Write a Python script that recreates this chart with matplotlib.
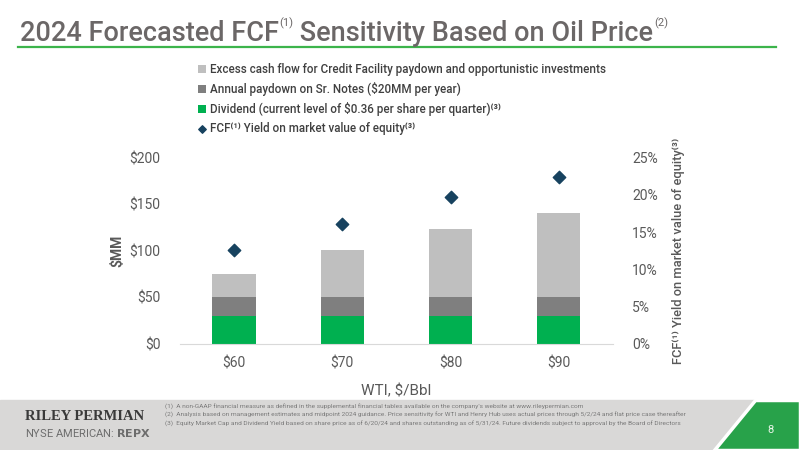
import matplotlib
matplotlib.use("Agg")
import matplotlib.pyplot as plt
from matplotlib.patches import Polygon, Rectangle
from matplotlib.lines import Line2D
import numpy as np

categories = ["$60", "$70", "$80", "$90"]
dividend = [30, 30, 30, 30]
notes_paydown = [20, 20, 20, 20]
excess_cash = [25, 51, 73, 90]
fcf_yield = [12.6, 16.1, 19.7, 22.4]
left_ticks = [0, 50, 100, 150, 200]
left_tick_labels = ["$0", "$50", "$100", "$150", "$200"]
right_ticks = [0, 5, 10, 15, 20, 25]
right_tick_labels = ["0%", "5%", "10%", "15%", "20%", "25%"]
footnotes = [
    "(1)  A non-GAAP financial measure as defined in the supplemental financial tables available on the company's website at www.rileypermian.com",
    "(2)  Analysis based on management estimates and midpoint 2024 guidance. Price sensitivity for WTI and Henry Hub uses actual prices through 5/2/24 and flat price case thereafter",
    "(3)  Equity Market Cap and Dividend Yield based on share price as of 6/20/24 and shares outstanding as of 5/31/24. Future dividends subject to approval by the Board of Directors",
]

plt.rcParams['font.family'] = ['Roboto', 'DejaVu Sans']
TXT = "#595959"
LEG = "#404040"
GREEN = "#00b050"
DGRAY = "#7f7f7f"
LGRAY = "#bfbfbf"
NAVY = "#17425f"

fig = plt.figure(figsize=(8, 4.5), dpi=100)
ax = fig.add_axes([0.225, 0.236, 0.541, 0.414])
x = np.arange(len(categories))
w = 0.4
b1 = ax.bar(x, dividend, w, color=GREEN, label="Dividend (current level of $0.36 per share per quarter)\u207d\u00b3\u207e", zorder=2)
b2 = ax.bar(x, notes_paydown, w, bottom=dividend, color=DGRAY, label="Annual paydown on Sr. Notes ($20MM per year)", zorder=2)
bottom2 = [a + b for a, b in zip(dividend, notes_paydown)]
b3 = ax.bar(x, excess_cash, w, bottom=bottom2, color=LGRAY, label="Excess cash flow for Credit Facility paydown and opportunistic investments", zorder=2)
ax.set_xlim(-0.5, len(categories) - 0.5)
ax.set_ylim(0, 200)
ax.set_yticks(left_ticks)
ax.set_yticklabels(left_tick_labels)
ax.set_xticks(x)
ax.set_xticklabels(categories)
for s in ["top", "right", "left"]:
    ax.spines[s].set_visible(False)
ax.spines["bottom"].set_color("#d9d9d9")
ax.tick_params(axis="both", length=0, colors=TXT, labelsize=10)
ax.tick_params(axis="y", pad=14)
ax.tick_params(axis="x", pad=9)
ax.set_ylabel("$MM", color=TXT, fontsize=10, fontweight="bold", labelpad=4)
ax.set_xlabel("WTI, $/Bbl", color=TXT, fontsize=11, labelpad=10)

ax2 = ax.twinx()
sc = ax2.scatter(x, fcf_yield, marker="D", s=40, color=NAVY, zorder=3,
                 label="FCF\u207d\u00b9\u207e Yield on market value of equity\u207d\u00b3\u207e")
ax2.set_ylim(0, 25)
ax2.set_yticks(right_ticks)
ax2.set_yticklabels(right_tick_labels)
for s in ["top", "right", "left", "bottom"]:
    ax2.spines[s].set_visible(False)
ax2.tick_params(axis="y", length=0, colors=TXT, labelsize=10, pad=14)
ax2.set_ylabel("FCF\u207d\u00b9\u207e Yield on market value of equity\u207d\u00b3\u207e", color=TXT,
               fontsize=9.3, fontweight="medium", labelpad=10)

handles = [b3, b2, b1, sc]
labels = [h.get_label() for h in handles]
fig.legend(handles, labels, loc="upper left", bbox_to_anchor=(0.247, 0.86), frameon=False,
           handlelength=0.7, handleheight=0.7, handletextpad=0.4,
           labelspacing=0.52, borderaxespad=0, borderpad=0, markerscale=0.6,
           labelcolor=LEG, prop={'weight': 'medium', 'size': 8.4})

# Title
TC = "#6b6767"
t = fig.text(0.025, 0.925, "2024 Forecasted FCF", fontsize=19.5, color=TC,
             fontweight="medium", va="center", ha="left")
s1 = fig.text(0, 0, "(1)", fontsize=8, color=TC)
t2 = fig.text(0, 0, " Sensitivity Based on Oil Price", fontsize=19.5, color=TC, fontweight="medium")
s2 = fig.text(0, 0, "(2)", fontsize=8, color=TC)
fig.canvas.draw()
r = fig.canvas.get_renderer()
bb = t.get_window_extent(r)
W, H = fig.bbox.width, fig.bbox.height
s1.set_position((bb.x1 / W, bb.y1 / H - 0.02))
s1.set_va("bottom")
bb1 = s1.get_window_extent(r)
t2.set_position((bb1.x1 / W, 0.925))
t2.set_va("center")
bb2 = t2.get_window_extent(r)
s2.set_position((bb2.x1 / W + 0.001, bb.y1 / H - 0.02))
s2.set_va("bottom")
fig.add_artist(Line2D([0.022, 0.97], [0.895, 0.895], color="#3cb44b", lw=1.6, transform=fig.transFigure))

# Footer
fig.add_artist(Rectangle((0, 0), 1, 50 / 450, transform=fig.transFigure, color="#d9d8d7", zorder=0))
fig.add_artist(Polygon([(755 / 800, 50 / 450), (1, 50 / 450), (1, 0), (714 / 800, 0)], closed=True,
                       transform=fig.transFigure, facecolor="#28a24a", edgecolor="white", lw=2.5, zorder=1))
fig.text(771 / 800, 1 - 430 / 450, "8", color="#e8f5e8", fontsize=8, ha="center", va="center")
fig.text(25 / 800, 1 - 417 / 450, "RILEY PERMIAN", family=["Liberation Serif", "DejaVu Serif"],
         fontweight="bold", fontsize=10.5, color="#3a3a3a", va="center")
fig.text(25 / 800, 1 - 433 / 450, "NYSE AMERICAN: $\\bf{REPX}$", fontsize=8, color="#6d6d6d", va="center")
for i, fn in enumerate(footnotes):
    fig.text(165 / 800, 1 - (407 + 8.5 * i) / 450, fn, fontsize=4.65, color="#7a7a7a", va="center")

fig.savefig("out.png", dpi=100)
